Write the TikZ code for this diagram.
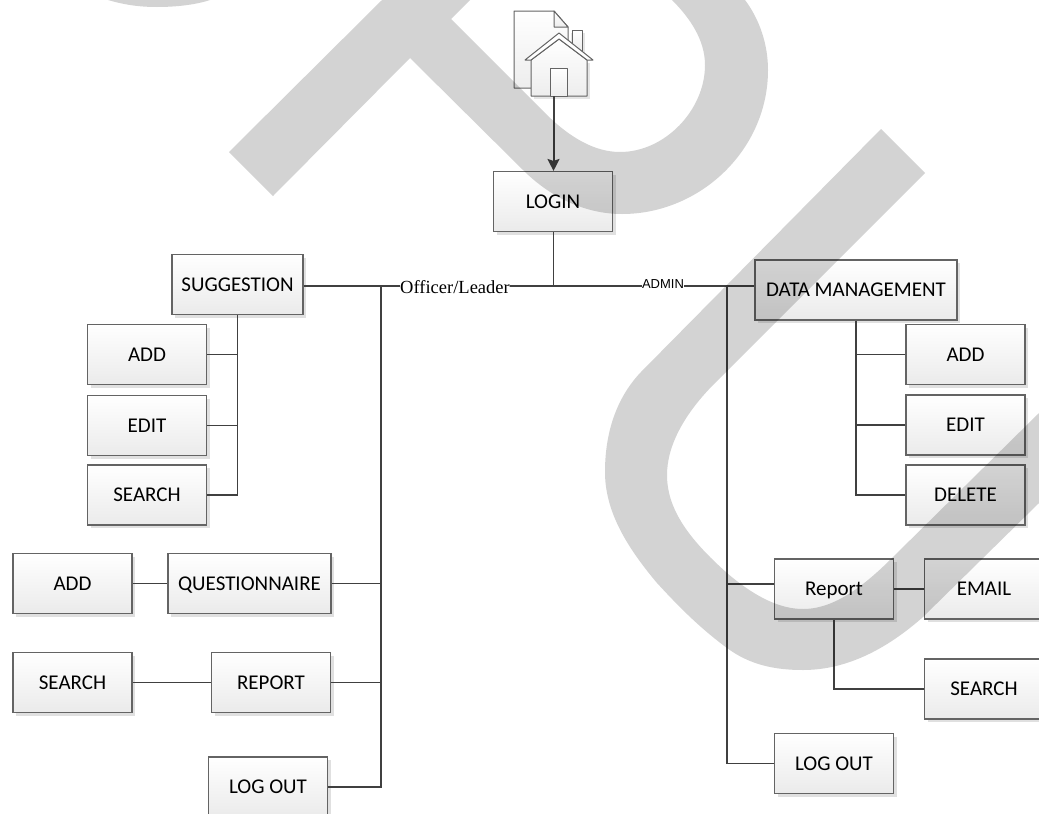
\documentclass[tikz,border=0pt]{standalone}
\usepackage{fontspec}
\setmainfont{Carlito}
\newfontfamily\officerfont{Liberation Serif}
\newfontfamily\adminfont{Liberation Sans}
\usepackage{xcolor}
\usepackage{tikz}
\usetikzlibrary{
  arrows.meta,
  shadows
}
\definecolor{linegrey}{RGB}{64, 64, 64}
\definecolor{edgegrey}{RGB}{100, 100, 100}
\tikzset{
  box/.style={draw=edgegrey, line width=1.1pt, top color=white, bottom color=black!8,
    minimum width=119pt, minimum height=60pt, inner sep=0pt,
    text height=13.5pt, text depth=0pt,
    font=\fontsize{21}{24}\selectfont,
    drop shadow={shadow xshift=3pt, shadow yshift=-3pt, fill=black!12, opacity=1}},
  wire/.style={draw=linegrey, line width=1.6pt},
  iconpart/.style={draw=edgegrey, line width=1pt, top color=white, bottom color=black!7, line join=round},
  stamp/.style={fill=black, opacity=0.173}
}

\begin{document}
\begin{tikzpicture}[x=1pt, y=-1pt]
  \useasboundingbox (0, 0) rectangle (1039, 814);
  % ---------- HOME ICON ----------
  \fill[black!10] (571, 33) rectangle (585, 60);
  \fill[black!10] (534, 63) rectangle (590, 99);
  \draw[iconpart] (514, 88) -- (514, 11) -- (554, 11) -- (568, 27) -- (568, 88) -- cycle;
  \draw[iconpart] (554, 11) -- (554, 27) -- (568, 27) -- cycle;
  \draw[iconpart] (572, 51) -- (572, 30) -- (582, 30) -- (582, 51) -- cycle;
  \draw[iconpart] (531, 60) -- (559, 39) -- (587, 60) -- (587, 96) -- (531, 96) -- cycle;
  \draw[draw=edgegrey, line width=1pt, fill=white, line join=round]
    (525, 60) -- (559, 33) -- (593, 60) -- (587, 60) -- (559, 39) -- (531, 60) -- cycle;
  \draw[iconpart] (550, 68) rectangle (567, 96);
  \coordinate (home) at (553.5, 96);
  % ---------- BOXES: LEFT BRANCH ----------
  \node[box] (login) at (553, 201.5) {LOGIN};
  \node[box, minimum width=131pt] (suggestion) at (237.5, 284.5) {SUGGESTION};
  \node[box] (addl) at (147, 354.5) {ADD};
  \node[box] (editl) at (147, 425.5) {EDIT};
  \node[box] (searchl) at (147, 495) {SEARCH};
  \node[box] (addq) at (72.5, 583.5) {ADD};
  \node[box, minimum width=163pt] (questionnaire) at (249.5, 583.5) {QUESTIONNAIRE};
  \node[box] (searchq) at (72.5, 682.5) {SEARCH};
  \node[box] (report) at (271, 682.5) {REPORT};
  \node[box] (logoutl) at (268, 787) {LOG OUT};
  % ---------- BOXES: RIGHT BRANCH ----------
  \node[box, minimum width=202pt] (datamgmt) at (856, 290) {DATA MANAGEMENT};
  \node[box] (addr) at (965.5, 354.5) {ADD};
  \node[box] (editr) at (965.5, 425) {EDIT};
  \node[box] (deleter) at (965.5, 495) {DELETE};
  \node[box] (reportr) at (834, 589) {Report};
  \node[box] (email) at (984, 589) {EMAIL};
  \node[box] (searchr) at (984, 689) {SEARCH};
  \node[box] (logoutr) at (834, 763.5) {LOG OUT};
  % ---------- CONNECTORS ----------
  \coordinate (junc) at (553.5, 286);
  \coordinate (lbus) at (381, 286);
  \coordinate (rbus) at (727, 286);
  \coordinate (rtap) at (727, 584);
  \draw[wire, line width=2pt, -{Stealth[length=12pt, width=12pt, inset=2pt]}] (home) -- (login.north -| home);
  \draw[wire] (login.south -| junc) -- (junc);
  \draw[wire] (suggestion.east |- junc) -- (datamgmt.west |- junc);
  \node[fill=white, inner sep=0.5pt, font=\officerfont\fontsize{18.5}{20}\selectfont] (officer) at (455, 287) {Officer/Leader};
  \node[fill=white, inner sep=0.5pt, font=\adminfont\fontsize{13}{15}\selectfont] (admin) at (663, 284.5) {ADMIN};
  \draw[wire] (lbus) |- (logoutl.east);
  \draw[wire] (questionnaire.east) -- (questionnaire.east -| lbus);
  \draw[wire] (report.east) -- (report.east -| lbus);
  \draw[wire] (addq.east) -- (questionnaire.west);
  \draw[wire] (searchq.east) -- (report.west);
  \draw[wire] (suggestion.south) |- (searchl.east);
  \draw[wire] (addl.east) -- (addl.east -| suggestion.south);
  \draw[wire] (editl.east) -- (editl.east -| suggestion.south);
  \draw[wire] (rbus) |- (logoutr.west);
  \draw[wire] (rtap) -- (rtap -| reportr.west);
  \draw[wire] (reportr.east) -- (email.west);
  \draw[wire] (reportr.south) |- (searchr.west);
  \draw[wire] (datamgmt.south) |- (deleter.west);
  \draw[wire] (addr.west) -- (addr.west -| datamgmt.south);
  \draw[wire] (editr.west) -- (editr.west -| datamgmt.south);
  % ---------- GREY STAMP ON TOP ----------
  \fill[stamp] (108, 0) .. controls (125, 5) and (140, 7) .. (157, 7)
    .. controls (175, 7) and (195, 5) .. (210, 0) -- cycle;
  \fill[stamp] (229, 152) -- (382, 0) -- (470, 0) -- (451, 19) -- (545, 113)
    .. controls (570, 138) and (595, 152) .. (620, 152)
    .. controls (665, 152) and (705, 110) .. (705, 65)
    .. controls (705, 40) and (690, 18) .. (672, 0)
    -- (745, 0) .. controls (760, 20) and (768, 45) .. (768, 70)
    .. controls (768, 150) and (700, 214) .. (622, 214)
    .. controls (585, 214) and (550, 197) .. (523, 170)
    -- (410, 58) -- (273, 196) -- cycle;
  \fill[stamp] (881, 129) -- (925, 173) -- (715, 383)
    .. controls (685, 413) and (667, 445) .. (667, 475)
    .. controls (667, 510) and (690, 540) .. (727, 573)
    .. controls (755, 597) and (780, 609) .. (803, 609)
    .. controls (835, 609) and (865, 585) .. (893, 557)
    -- (1039, 413) -- (1039, 503) -- (923, 617)
    .. controls (880, 655) and (840, 670) .. (803, 670)
    .. controls (775, 670) and (750, 665) .. (727, 648)
    .. controls (700, 628) and (680, 608) .. (657, 583)
    .. controls (625, 545) and (605, 510) .. (605, 472)
    .. controls (605, 435) and (615, 400) .. (640, 373) -- cycle;
\end{tikzpicture}
\end{document}
